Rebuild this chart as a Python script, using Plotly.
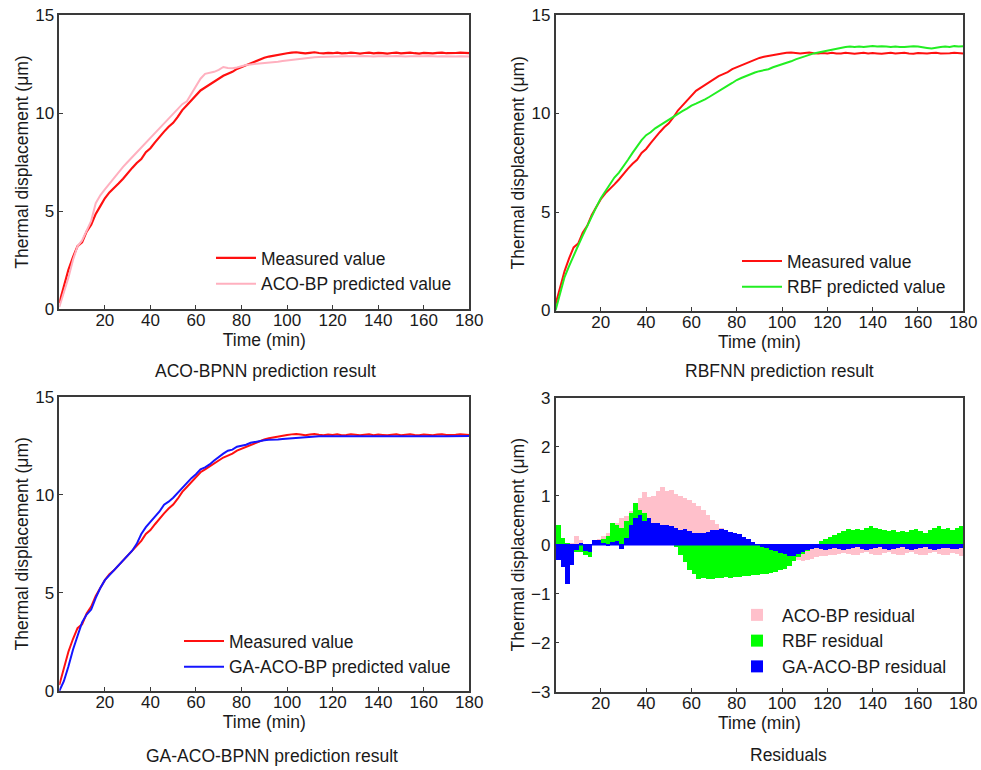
import plotly.graph_objects as go

# ---------------- data ----------------
time_min = list(range(0, 181, 2))

measured = [0.30, 1.20, 2.00, 2.65, 3.20, 3.40, 3.95, 4.30, 4.85, 5.25,
            5.65, 5.95, 6.15, 6.40, 6.65, 6.95, 7.20, 7.45, 7.65, 8.00,
            8.20, 8.50, 8.80, 9.05, 9.30, 9.50, 9.80, 10.15, 10.40, 10.65,
            10.90, 11.15, 11.30, 11.45, 11.60, 11.75, 11.90, 12.00, 12.10, 12.25,
            12.35, 12.45, 12.55, 12.65, 12.75, 12.82, 12.88, 12.93, 12.98, 13.02,
            13.05, 13.08, 13.10, 13.07, 13.04, 13.07, 13.10, 13.06, 13.04, 13.07,
            13.05, 13.08, 13.04, 13.05, 13.08, 13.06, 13.03, 13.06, 13.08, 13.04,
            13.07, 13.05, 13.03, 13.06, 13.08, 13.04, 13.06, 13.08, 13.05, 13.03,
            13.07, 13.05, 13.04, 13.07, 13.08, 13.05, 13.04, 13.06, 13.08, 13.07,
            13.05]

aco_bp_pred = [0.10, 0.80, 1.60, 2.50, 3.20, 3.50, 4.00, 4.50, 5.40, 5.80,
               6.10, 6.40, 6.70, 6.95, 7.25, 7.50, 7.75, 8.00, 8.25, 8.50,
               8.75, 9.00, 9.20, 9.45, 9.70, 9.95, 10.20, 10.45, 10.60, 11.00,
               11.40, 11.75, 12.00, 12.05, 12.10, 12.20, 12.35, 12.30, 12.28, 12.32,
               12.40, 12.45, 12.48, 12.50, 12.52, 12.53, 12.55, 12.58, 12.62, 12.65,
               12.68, 12.72, 12.75, 12.78, 12.80, 12.82, 12.84, 12.86, 12.87, 12.88,
               12.88, 12.89, 12.88, 12.90, 12.89, 12.88, 12.90, 12.91, 12.89, 12.88,
               12.90, 12.89, 12.88, 12.90, 12.91, 12.89, 12.88, 12.90, 12.89, 12.88,
               12.90, 12.91, 12.89, 12.88, 12.90, 12.89, 12.87, 12.88, 12.90, 12.89,
               12.88]

rbf_pred = [0.00, 0.90, 1.70, 2.25, 2.80, 3.30, 3.80, 4.30, 4.80, 5.25,
            5.70, 6.05, 6.40, 6.75, 7.00, 7.30, 7.65, 8.00, 8.35, 8.65,
            8.90, 9.05, 9.25, 9.40, 9.55, 9.68, 9.85, 10.00, 10.12, 10.25,
            10.40, 10.50, 10.60, 10.72, 10.85, 11.00, 11.12, 11.30, 11.42, 11.55,
            11.70, 11.80, 11.90, 11.97, 12.08, 12.15, 12.20, 12.25, 12.35, 12.42,
            12.50, 12.55, 12.65, 12.75, 12.83, 12.90, 12.98, 13.05, 13.10, 13.15,
            13.20, 13.22, 13.28, 13.32, 13.37, 13.40, 13.38, 13.40, 13.37, 13.40,
            13.43, 13.40, 13.42, 13.40, 13.38, 13.40, 13.37, 13.38, 13.40, 13.42,
            13.40, 13.38, 13.33, 13.30, 13.35, 13.38, 13.40, 13.38, 13.42, 13.40,
            13.42]

ga_aco_bp_pred = [0.00, 0.50, 1.25, 2.10, 2.80, 3.50, 3.90, 4.15, 4.75, 5.25,
                  5.65, 5.90, 6.15, 6.40, 6.65, 6.90, 7.15, 7.50, 8.00, 8.35,
                  8.60, 8.85, 9.15, 9.50, 9.65, 9.85, 10.10, 10.35, 10.65, 10.85,
                  11.05, 11.30, 11.40, 11.55, 11.75, 11.95, 12.10, 12.25, 12.30, 12.45,
                  12.50, 12.55, 12.65, 12.70, 12.75, 12.78, 12.80, 12.80, 12.82, 12.84,
                  12.86, 12.88, 12.90, 12.92, 12.95, 12.97, 12.98, 12.98, 12.99, 13.00,
                  12.99, 12.98, 12.99, 13.00, 12.99, 12.98, 12.99, 13.00, 12.99, 12.98,
                  12.99, 13.00, 12.99, 12.98, 12.99, 13.00, 12.99, 12.98, 12.99, 13.00,
                  12.99, 12.98, 12.99, 13.00, 12.99, 12.98, 12.99, 13.00, 12.99, 12.99,
                  13.00]

# residual bars (centre of each 2-min bin)
res_time = list(range(1, 180, 2))

aco_bp_res = [-0.20, -0.30, -0.40, 0.05, 0.18, 0.10, -0.05, -0.10, 0.10, 0.12,
              0.18, 0.25, 0.35, 0.45, 0.55, 0.60, 0.70, 0.80, 0.95, 1.08,
              0.98, 1.00, 1.10, 1.18, 1.10, 1.12, 1.05, 1.00, 0.95, 0.92,
              0.85, 0.80, 0.72, 0.62, 0.52, 0.42, 0.35, 0.25, 0.15, 0.08,
              0.02, -0.03, -0.08, -0.10, -0.12, -0.13, -0.15, -0.16, -0.18, -0.20,
              -0.22, -0.25, -0.28, -0.30, -0.32, -0.30, -0.28, -0.25, -0.23, -0.22,
              -0.20, -0.20, -0.18, -0.16, -0.18, -0.21, -0.20, -0.17, -0.15, -0.18,
              -0.21, -0.20, -0.17, -0.15, -0.18, -0.21, -0.20, -0.17, -0.15, -0.18,
              -0.21, -0.20, -0.17, -0.15, -0.18, -0.21, -0.20, -0.17, -0.18, -0.22]

rbf_res = [0.40, 0.15, 0.05, 0.02, -0.15, -0.15, -0.20, -0.25, 0.05, 0.10,
           0.12, 0.18, 0.45, 0.40, 0.35, 0.50, 0.65, 0.85, 0.72, 0.65,
           0.50, 0.45, 0.40, 0.35, 0.28, 0.15, -0.05, -0.20, -0.35, -0.50,
           -0.60, -0.70, -0.68, -0.70, -0.69, -0.67, -0.68, -0.66, -0.67, -0.66,
           -0.65, -0.64, -0.63, -0.62, -0.61, -0.60, -0.59, -0.57, -0.55, -0.52,
           -0.48, -0.42, -0.33, -0.25, -0.18, -0.12, -0.05, 0.02, 0.08, 0.12,
           0.16, 0.20, 0.24, 0.28, 0.32, 0.30, 0.33, 0.30, 0.35, 0.38,
           0.35, 0.32, 0.30, 0.28, 0.30, 0.27, 0.28, 0.26, 0.30, 0.32,
           0.28, 0.25, 0.30, 0.35, 0.38, 0.33, 0.35, 0.30, 0.35, 0.38]

ga_aco_bp_res = [-0.30, -0.45, -0.80, -0.40, -0.10, 0.05, -0.12, -0.15, 0.10, 0.10,
                 0.03, -0.02, 0.06, 0.08, -0.08, 0.15, 0.40, 0.55, 0.62, 0.50,
                 0.55, 0.45, 0.45, 0.40, 0.40, 0.38, 0.35, 0.30, 0.32, 0.28,
                 0.25, 0.24, 0.25, 0.27, 0.30, 0.30, 0.33, 0.30, 0.27, 0.25,
                 0.22, 0.17, 0.12, 0.07, 0.02, -0.03, -0.07, -0.10, -0.13, -0.16,
                 -0.19, -0.22, -0.22, -0.18, -0.14, -0.10, -0.08, -0.07, -0.09, -0.10,
                 -0.08, -0.06, -0.08, -0.10, -0.09, -0.06, -0.05, -0.08, -0.10, -0.09,
                 -0.06, -0.05, -0.08, -0.10, -0.09, -0.06, -0.05, -0.08, -0.10, -0.09,
                 -0.06, -0.05, -0.08, -0.10, -0.09, -0.06, -0.06, -0.08, -0.09, -0.07]

x_ticks = [20, 40, 60, 80, 100, 120, 140, 160, 180]
y_ticks_main = [0, 5, 10, 15]
y_ticks_res = [-3, -2, -1, 0, 1, 2, 3]

captions = ["ACO-BPNN prediction result", "RBFNN prediction result",
            "GA-ACO-BPNN prediction result", "Residuals"]

# ---------------- styling ----------------
W, H = 981, 770
FONT = "Liberation Sans, Arial, Helvetica, sans-serif"
FS = 17.5
TXT = "#1a1a1a"
AX = "#3a3a3a"
RED = "#ff1010"
PINK = "#ffb0bf"
GREEN = "#22ee22"
BLUE = "#1515ff"


def px_dom_x(a, b):
    return [a / W, b / W]


def px_dom_y(top, bottom):
    return [1 - bottom / H, 1 - top / H]


fig = go.Figure()

# top-left
fig.add_trace(go.Scatter(x=time_min, y=measured, mode="lines", name="Measured value",
                         line=dict(color=RED, width=2.2), xaxis="x", yaxis="y", legend="legend"))
fig.add_trace(go.Scatter(x=time_min, y=aco_bp_pred, mode="lines", name="ACO-BP predicted value",
                         line=dict(color=PINK, width=2), xaxis="x", yaxis="y", legend="legend"))
# top-right
fig.add_trace(go.Scatter(x=time_min, y=measured, mode="lines", name="Measured value",
                         line=dict(color=RED, width=2), xaxis="x2", yaxis="y2", legend="legend2"))
fig.add_trace(go.Scatter(x=time_min, y=rbf_pred, mode="lines", name="RBF predicted value",
                         line=dict(color=GREEN, width=2), xaxis="x2", yaxis="y2", legend="legend2"))
# bottom-left
fig.add_trace(go.Scatter(x=time_min, y=measured, mode="lines", name="Measured value",
                         line=dict(color=RED, width=2), xaxis="x3", yaxis="y3", legend="legend3"))
fig.add_trace(go.Scatter(x=time_min, y=ga_aco_bp_pred, mode="lines", name="GA-ACO-BP predicted value",
                         line=dict(color=BLUE, width=2), xaxis="x3", yaxis="y3", legend="legend3"))
# bottom-right residuals
fig.add_trace(go.Bar(x=res_time, y=aco_bp_res, width=2, name="ACO-BP residual",
                     marker=dict(color="#ffc0cb", line=dict(width=0)), xaxis="x4", yaxis="y4", legend="legend4"))
fig.add_trace(go.Bar(x=res_time, y=rbf_res, width=2, name="RBF residual",
                     marker=dict(color="#00ff00", line=dict(width=0)), xaxis="x4", yaxis="y4", legend="legend4"))
fig.add_trace(go.Bar(x=res_time, y=ga_aco_bp_res, width=2, name="GA-ACO-BP residual",
                     marker=dict(color="#0000ff", line=dict(width=0)), xaxis="x4", yaxis="y4", legend="legend4"))

axis_common = dict(showline=True, mirror=True, linecolor=AX, linewidth=1.5,
                   ticks="inside", ticklen=4, tickcolor=AX, tickwidth=1.2,
                   showgrid=False, zeroline=False, automargin=False,
                   tickfont=dict(family=FONT, size=17, color=TXT))

xdef = dict(axis_common, range=[0, 180], tickvals=x_ticks, ticklabelstandoff=-5,
            title=dict(text="Time (min)", font=dict(family=FONT, size=FS, color=TXT), standoff=5))


def ydef(rng, vals):
    return dict(axis_common, range=rng, tickvals=vals,
                title=dict(text="Thermal displacement (μm)", font=dict(family=FONT, size=FS, color=TXT),
                           standoff=2))


L_dom = px_dom_x(59.3, 469.3)
R_dom = px_dom_x(555.5, 963.3)

layout = dict(
    width=W, height=H,
    margin=dict(l=0, r=0, t=0, b=0, autoexpand=False),
    paper_bgcolor="white", plot_bgcolor="white",
    font=dict(family=FONT, size=FS, color=TXT),
    barmode="overlay", bargap=0,
    xaxis=dict(xdef, domain=L_dom, anchor="y"),
    yaxis=dict(ydef([0, 15], y_ticks_main), domain=px_dom_y(15, 309), anchor="x"),
    xaxis2=dict(xdef, domain=R_dom, anchor="y2"),
    yaxis2=dict(ydef([0, 15], y_ticks_main), domain=px_dom_y(15, 310.5), anchor="x2"),
    xaxis3=dict(xdef, domain=L_dom, anchor="y3"),
    yaxis3=dict(ydef([0, 15], y_ticks_main), domain=px_dom_y(396.7, 691), anchor="x3"),
    xaxis4=dict(xdef, domain=R_dom, anchor="y4"),
    yaxis4=dict(ydef([-3, 3], y_ticks_res), domain=px_dom_y(397.7, 691.7), anchor="x4"),
)

leg_common = dict(bgcolor="rgba(0,0,0,0)", borderwidth=0, xanchor="left", yanchor="top",
                  font=dict(family=FONT, size=FS, color=TXT), tracegroupgap=0, itemwidth=40)
layout["legend"] = dict(leg_common, x=211 / W, y=1 - 240 / H)
layout["legend2"] = dict(leg_common, x=737 / W, y=1 - 243 / H)
layout["legend3"] = dict(leg_common, x=179 / W, y=1 - 623 / H)
layout["legend4"] = dict(leg_common, x=732 / W, y=1 - 597 / H)

caps = [(265, 371), (779, 371), (272, 756), (788, 755)]
layout["annotations"] = [
    dict(text=t, x=cx / W, y=1 - cy / H, xref="paper", yref="paper", showarrow=False,
         xanchor="center", yanchor="middle", font=dict(family=FONT, size=FS, color=TXT))
    for t, (cx, cy) in zip(captions, caps)
]
layout["shapes"] = [dict(type="line", xref="x4 domain", yref="y4", x0=0, x1=1, y0=0, y1=0,
                         line=dict(color="#0000ff", width=1.5), layer="above")]

fig.update_layout(layout)
fig.write_html("out.html", config={"displayModeBar": False},
               post_script="document.body.style.margin='0';document.body.style.overflow='hidden';")
